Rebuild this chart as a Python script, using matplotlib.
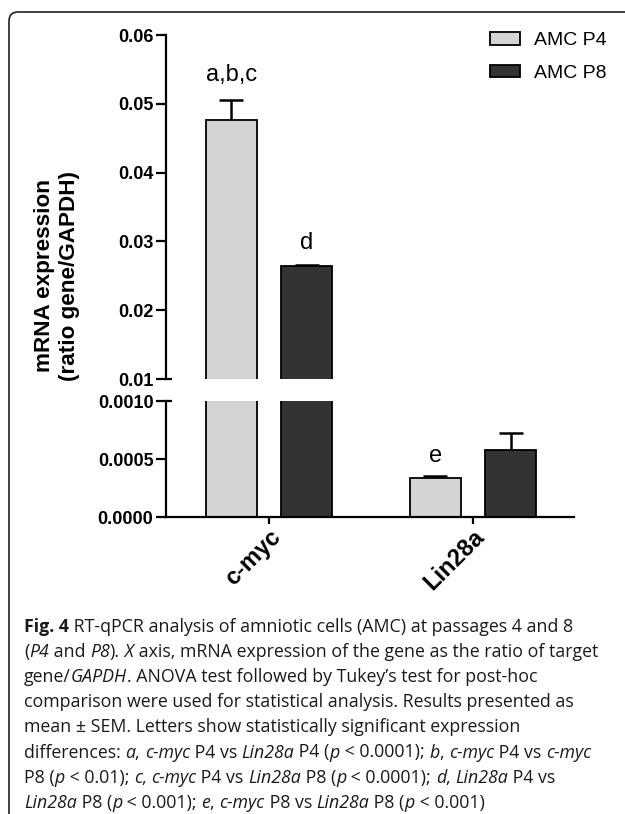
import numpy as np
import matplotlib
matplotlib.use('Agg')
import matplotlib.pyplot as plt
from matplotlib.patches import FancyBboxPatch, Patch
from matplotlib.ticker import FormatStrFormatter

plt.rcParams['font.family'] = ['Liberation Sans', 'DejaVu Sans']

genes = ['c-myc', 'Lin28a']
series = ['AMC P4', 'AMC P8']
p4_mean = [0.0477, 0.000336]
p4_sem = [0.0029, 0.000018]
p8_mean = [0.0264, 0.000578]
p8_sem = [0.0002, 0.000146]
letters_p4 = ['a,b,c', 'e']
letters_p8 = ['d', '']

colors = ['#d4d4d4', '#333333']

W, H = 625, 814
fig = plt.figure(figsize=(W / 100, H / 100), dpi=100)
fig.patch.set_facecolor('white')

def px_box(left, top, right, bottom):
    return [left / W, 1 - bottom / H, (right - left) / W, (bottom - top) / H]

ax_top = fig.add_axes(px_box(166, 35, 574, 379))
ax_bot = fig.add_axes(px_box(166, 401, 574, 517))

x = np.arange(len(genes))
off = 0.185
bw = 0.25
cap = 0.058

for ax in (ax_top, ax_bot):
    for i, (means, sems) in enumerate([(p4_mean, p4_sem), (p8_mean, p8_sem)]):
        xs = x + (i * 2 - 1) * off
        m = np.array(means)
        s = np.array(sems)
        ax.vlines(xs, m, m + s, color='black', lw=1.8, zorder=1)
        ax.hlines(m + s, xs - cap, xs + cap, color='black', lw=1.8, zorder=1)
        ax.bar(xs, m, bw, color=colors[i], edgecolor='black', lw=1.3, zorder=2)
    ax.set_xlim(-0.505, 1.495)
    for sp in ('top', 'right'):
        ax.spines[sp].set_visible(False)
    ax.spines['left'].set_linewidth(1.6)
    ax.spines['bottom'].set_linewidth(1.6)
    ax.tick_params(axis='y', length=7, width=1.6, labelsize=13, pad=2)

ax_top.set_ylim(0.01, 0.06)
ax_top.set_yticks([0.01, 0.02, 0.03, 0.04, 0.05, 0.06])
ax_top.yaxis.set_major_formatter(FormatStrFormatter('%.2f'))
ax_top.spines['bottom'].set_visible(False)
ax_top.set_xticks([])

ax_bot.set_ylim(0, 0.001)
ax_bot.set_yticks([0, 0.0005, 0.001])
ax_bot.yaxis.set_major_formatter(FormatStrFormatter('%.4f'))
ax_bot.set_xticks(x)
ax_bot.set_xticklabels(genes, rotation=45, ha='right', va='top',
                       rotation_mode='anchor', fontsize=17, fontweight='bold')
ax_bot.tick_params(axis='x', length=5, width=1.6, pad=1)

for ax in (ax_top, ax_bot):
    for lab in ax.get_yticklabels():
        lab.set_fontweight('bold')

# small break marks at the cut ends of the y axis
ax_top.plot([0, 0.014], [0, 0], transform=ax_top.transAxes, color='black',
            lw=1.6, clip_on=False, solid_capstyle='butt')
ax_bot.plot([0, 0.014], [1, 1], transform=ax_bot.transAxes, color='black',
            lw=1.6, clip_on=False, solid_capstyle='butt')

# significance letters
for i, lt in enumerate(letters_p4):
    if not lt:
        continue
    ax = ax_top if p4_mean[i] > 0.01 else ax_bot
    pad = 0.0036 if ax is ax_top else 0.00017
    ax.text(x[i] - off, p4_mean[i] + p4_sem[i] + pad, lt, ha='center',
            va='center', fontsize=17)
for i, lt in enumerate(letters_p8):
    if not lt:
        continue
    ax = ax_top if p8_mean[i] > 0.01 else ax_bot
    pad = 0.0032 if ax is ax_top else 0.00017
    ax.text(x[i] + off, p8_mean[i] + p8_sem[i] + pad, lt, ha='center',
            va='center', fontsize=17)

# legend
handles = [Patch(facecolor=c, edgecolor='black', lw=1.3) for c in colors]
fig.legend(handles, series, loc='upper left',
           bbox_to_anchor=(490 / W, 1 - 32 / H), frameon=False, fontsize=14,
           handlelength=1.55, handleheight=0.62, handletextpad=0.7,
           labelspacing=0.8, borderpad=0, borderaxespad=0)

# y label
fig.text(45 / W, 1 - 276 / H, 'mRNA expression', rotation=90, ha='center',
         va='center', fontsize=16.2, fontweight='bold')
fig.text(70 / W, 1 - 276 / H, '(ratio gene/GAPDH)', rotation=90, ha='center',
         va='center', fontsize=16.2, fontweight='bold')

# border
fig.patches.append(FancyBboxPatch((0.09, -0.10), 7.0, 8.12,
                                  boxstyle='round,pad=0,rounding_size=0.09',
                                  transform=fig.dpi_scale_trans, fill=False,
                                  edgecolor='#222222', lw=1.2))

# caption with mixed styles
cap_font = ['Open Sans', 'DejaVu Sans']
cap_size = 12.8
caption = [
    [('Fig. 4', 'b'), (' RT-qPCR analysis of amniotic cells (AMC) at passages 4 and 8', 'n')],
    [('(', 'n'), ('P4', 'i'), (' and ', 'n'), ('P8', 'i'), (').', 'n'), (' X', 'i'),
     (' axis, mRNA expression of the gene as the ratio of target', 'n')],
    [('gene/', 'n'), ('GAPDH', 'i'), ('. ANOVA test followed by Tukey\u2019s test for post-hoc', 'n')],
    [('comparison were used for statistical analysis. Results presented as', 'n')],
    [('mean \u00b1 SEM. Letters show statistically significant expression', 'n')],
    [('differences: ', 'n'), ('a', 'i'), (', ', 'n'), ('c-myc', 'i'), (' P4 vs ', 'n'),
     ('Lin28a', 'i'), (' P4 (', 'n'), ('p', 'i'), (' < 0.0001); ', 'n'), ('b', 'i'),
     (', ', 'n'), ('c-myc', 'i'), (' P4 vs ', 'n'), ('c-myc', 'i')],
    [('P8 (', 'n'), ('p', 'i'), (' < 0.01); ', 'n'), ('c', 'i'), (', ', 'n'), ('c-myc', 'i'),
     (' P4 vs ', 'n'), ('Lin28a', 'i'), (' P8 (', 'n'), ('p', 'i'), (' < 0.0001); ', 'n'),
     ('d', 'i'), (', ', 'n'), ('Lin28a', 'i'), (' P4 vs', 'n')],
    [('Lin28a', 'i'), (' P8 (', 'n'), ('p', 'i'), (' < 0.001); ', 'n'), ('e', 'i'), (', ', 'n'),
     ('c-myc', 'i'), (' P8 vs ', 'n'), ('Lin28a', 'i'), (' P8 (', 'n'), ('p', 'i'),
     (' < 0.001)', 'n')],
]

renderer = fig.canvas.get_renderer()

def style_kw(st):
    kw = dict(family=cap_font, fontsize=cap_size, color='#1a1a1a')
    if st == 'b':
        kw['fontweight'] = 'bold'
    if st == 'i':
        kw['fontstyle'] = 'italic'
    return kw

def seg_width(s, st):
    t1 = fig.text(0, 0, '|' + s + '|', **style_kw(st))
    t2 = fig.text(0, 0, '||', **style_kw(st))
    w = t1.get_window_extent(renderer).width - t2.get_window_extent(renderer).width
    t1.remove()
    t2.remove()
    return w

for li, line in enumerate(caption):
    xp = 24
    yb = 632 + li * 25.1
    for s, st in line:
        fig.text(xp / W, 1 - yb / H, s, ha='left', va='baseline', **style_kw(st))
        xp += seg_width(s, st)

fig.savefig('out.png', dpi=100, facecolor='white')
